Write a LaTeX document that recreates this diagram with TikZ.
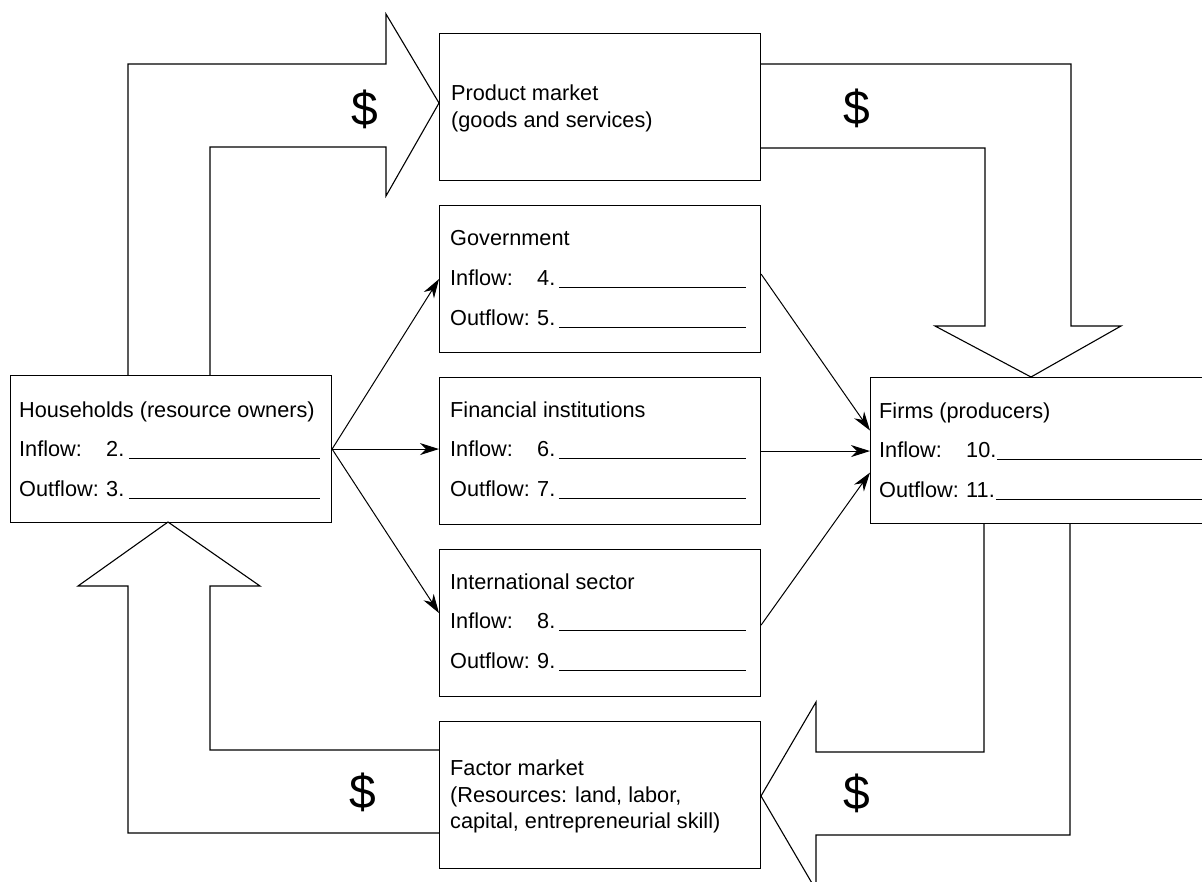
\documentclass[tikz,border=0pt]{standalone}
\usepackage{fontspec}
\setmainfont{Liberation Sans}
\usetikzlibrary{arrows.meta,calc}
\newcommand{\fillin}[2]{\hspace{#1}\rule[-2.5pt]{#2}{0.9pt}}
\newcommand{\lbl}[1]{\makebox[87pt][l]{#1}}
\begin{document}
\begin{tikzpicture}[x=1pt,y=-1pt,
  box/.style={draw,line width=1.1pt,minimum width=321pt,minimum height=147pt,inner sep=0pt,anchor=north west},
  txt/.style={anchor=base west,inner sep=0pt,font=\fontsize{21.7}{26}\selectfont},
  flow/.style={draw,line width=1.1pt,line join=miter},
  con/.style={line width=1pt,-{Stealth[length=19pt,width=12pt,inset=6pt]}},
  dollar/.style={font=\fontsize{48}{54}\selectfont,inner sep=0pt}]
\useasboundingbox (0,0) rectangle (1202,881);
\clip (0,0) rectangle (1202,881);

% boxes
\node[box] (prod) at (439,33) {};
\node[box] (gov) at (439,205) {};
\node[box] (fin) at (439,377) {};
\node[box] (intl) at (439,549) {};
\node[box] (fact) at (439,721) {};
\node[box] (hh) at (10,375) {};
\node[box,minimum width=400pt,minimum height=146pt] (firms) at (870,377) {};

% texts
\node[txt] (prodA) at (451,100) {Product market};
\node[txt] (prodB) at (451,127) {(goods and services)};

\node[txt] (govA) at (450,245) {Government};
\node[txt] (govB) at (450,285) {\lbl{Inflow:}4.\fillin{4pt}{187pt}};
\node[txt] (govC) at (450,325) {\lbl{Outflow:}5.\fillin{4pt}{187pt}};

\node[txt] (finA) at (450,417) {Financial institutions};
\node[txt] (finB) at (450,456) {\lbl{Inflow:}6.\fillin{4pt}{187pt}};
\node[txt] (finC) at (450,496) {\lbl{Outflow:}7.\fillin{4pt}{187pt}};

\node[txt] (intlA) at (450,589) {International sector};
\node[txt] (intlB) at (450,628) {\lbl{Inflow:}8.\fillin{4pt}{187pt}};
\node[txt] (intlC) at (450,668) {\lbl{Outflow:}9.\fillin{4pt}{187pt}};

\node[txt] (factA) at (450,775) {Factor market};
\node[txt] (factB) at (450,802) {(Resources: land, labor,};
\node[txt] (factC) at (450,828) {capital, entrepreneurial skill)};

\node[txt] (hhA) at (19,417) {Households (resource owners)};
\node[txt] (hhB) at (19,456) {\lbl{Inflow:}2.\fillin{5pt}{191pt}};
\node[txt] (hhC) at (19,496) {\lbl{Outflow:}3.\fillin{5pt}{191pt}};

\node[txt] (firmsA) at (879,418) {Firms (producers)};
\node[txt] (firmsB) at (879,457) {\lbl{Inflow:}10.\fillin{1pt}{250pt}};
\node[txt] (firmsC) at (879,497) {\lbl{Outflow:}11.\fillin{1pt}{250pt}};

% big flow arrows
\draw[flow] (128,375) -- (128,64) -- (386,64) -- (386,14) -- (439,103)
  -- (386,196) -- (386,147) -- (210,147) -- (210,375);
\draw[flow] (760,64) -- (1071,64) -- (1071,326) -- (1121,326) -- (1031,377)
  -- (935,326) -- (985,326) -- (985,148) -- (760,148);
\draw[flow] (1070,523) -- (1070,835) -- (816,835) -- (816,890) -- (761,796)
  -- (816,702) -- (816,752) -- (984,752) -- (984,523);
\draw[flow] (439,750) -- (210,750) -- (210,586) -- (260,586) -- (168,522)
  -- (78,586) -- (128,586) -- (128,833) -- (439,833);

% dollar signs
\node[dollar] (d1) at (365,109) {\$};
\node[dollar] (d2) at (857,108) {\$};
\node[dollar] (d3) at (363,792) {\$};
\node[dollar] (d4) at (857,793) {\$};

% connectors
\draw[con] (hh.east) -- (gov.west);
\draw[con] (hh.east) -- (hh.east -| fin.west);
\draw[con] (hh.east) -- ($(intl.west)+(0,-10)$);
\draw[con] ($(gov.east)+(0,-5)$) -- ($(firms.west)+(0,-20)$);
\draw[con] (fin.east) -- (fin.east -| firms.west);
\draw[con] ($(intl.east)+(0,2)$) -- ($(firms.west)+(0,22)$);
\end{tikzpicture}
\end{document}
